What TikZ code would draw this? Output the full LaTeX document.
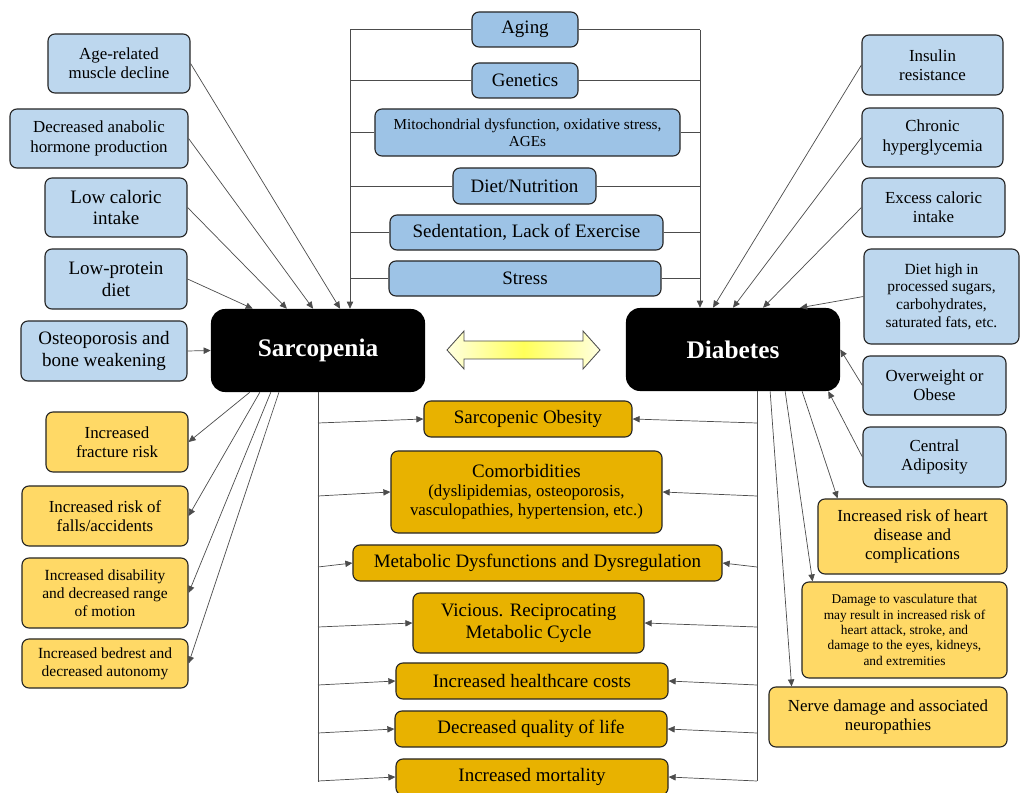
\documentclass[tikz,border=0pt]{standalone}
\usepackage{fontspec}
\setmainfont{Liberation Serif}
\usetikzlibrary{arrows.meta,calc}

\definecolor{topblue}{RGB}{157,195,230}
\definecolor{sideblue}{RGB}{189,215,238}
\definecolor{softgold}{RGB}{255,217,102}
\definecolor{deepgold}{RGB}{232,178,0}

\newcommand\szbig{\fontsize{13.5}{15.5}\selectfont}
\newcommand\szmed{\fontsize{12}{13.6}\selectfont}
\newcommand\szsml{\fontsize{11}{12.6}\selectfont}
\newcommand\sztiny{\fontsize{9.5}{10.9}\selectfont}

\tikzset{
  box/.style={draw=black!85, line width=0.8pt, rounded corners=5pt, align=center, inner sep=1pt},
  topbox/.style={box, fill=topblue, font=\szbig},
  causebox/.style={box, fill=sideblue, font=\szmed},
  effbox/.style={box, fill=softgold, font=\szmed},
  outbox/.style={box, fill=deepgold, font=\szbig},
  mainbox/.style={fill=black, rounded corners=10pt, text=white, font=\fontsize{18}{20}\selectfont\bfseries},
  link/.style={draw=black!70, line width=0.5pt},
  arr/.style={link, -{Triangle[length=5pt,width=4.5pt]}}
}

\begin{document}
\begin{tikzpicture}[x=0.025cm,y=-0.025cm]
                \useasboundingbox (0,0) rectangle (1020,793);
                \node[topbox, minimum width=2.65cm, minimum height=0.875cm] (aging) at (525,29.5) {Aging};
                \node[topbox, minimum width=2.65cm, minimum height=0.875cm] (genetics) at (525,80.5) {Genetics};
                \node[topbox, font=\fontsize{10.8}{12.4}\selectfont, minimum width=7.625cm, minimum height=1.175cm] (mito) at (527.5,132.5) {Mitochondrial dysfunction, oxidative stress,\\ AGEs};
                \node[topbox, minimum width=3.575cm, minimum height=0.9cm] (diet) at (524.5,186) {Diet/Nutrition};
                \node[topbox, minimum width=6.825cm, minimum height=0.875cm] (sedent) at (526.5,232.5) {Sedentation, Lack of Exercise};
                \node[topbox, minimum width=6.8cm, minimum height=0.875cm] (stress) at (525,278.5) {Stress};

                \node[mainbox, minimum width=5.35cm, minimum height=2.075cm] (sarc) at (318,350.5) {Sarcopenia};
                \node[mainbox, minimum width=5.35cm, minimum height=2.075cm] (diab) at (733,349.5) {Diabetes};

                \node[causebox, minimum width=3.55cm, minimum height=1.475cm] (agemus) at (119,63.5) {Age-related\\ muscle decline};
                \node[causebox, minimum width=4.45cm, minimum height=1.475cm] (hormone) at (99,138.5) {Decreased anabolic\\ hormone production};
                \node[causebox, font=\szbig, minimum width=3.55cm, minimum height=1.475cm] (lowcal) at (116,207.5) {Low caloric\\ intake};
                \node[causebox, font=\szbig, minimum width=3.55cm, minimum height=1.5cm] (lowprot) at (116,279) {Low-protein\\ diet};
                \node[causebox, font=\szbig, minimum width=4.15cm, minimum height=1.5cm] (osteo) at (104,351) {Osteoporosis and\\ bone weakening};

                \node[causebox, minimum width=3.525cm, minimum height=1.5cm] (insulin) at (932.5,65) {Insulin\\ resistance};
                \node[causebox, minimum width=3.525cm, minimum height=1.475cm] (hyper) at (932.5,137.5) {Chronic\\ hyperglycemia};
                \node[causebox, minimum width=3.575cm, minimum height=1.475cm] (excess) at (933.5,207.5) {Excess caloric\\ intake};
                \node[causebox, font=\szsml, minimum width=3.875cm, minimum height=2.375cm] (dietrich) at (941.5,296.5) {Diet high in\\ processed sugars,\\ carbohydrates,\\ saturated fats, etc.};
                \node[causebox, minimum width=3.575cm, minimum height=1.475cm] (overw) at (934.5,385.5) {Overweight or\\ Obese};
                \node[causebox, minimum width=3.575cm, minimum height=1.5cm] (central) at (934.5,457) {Central\\ Adiposity};

                \node[effbox, minimum width=3.55cm, minimum height=1.5cm] (fract) at (117,442) {Increased\\ fracture risk};
                \node[effbox, minimum width=4.15cm, minimum height=1.5cm] (falls) at (105,516) {Increased risk of\\ falls/accidents};
                \node[effbox, font=\szsml, minimum width=4.15cm, minimum height=1.75cm] (disab) at (105,593) {Increased disability\\ and decreased range\\ of motion};
                \node[effbox, font=\szsml, minimum width=4.15cm, minimum height=1.225cm] (bedrest) at (105,663.5) {Increased bedrest and\\ decreased autonomy};

                \node[effbox, minimum width=4.725cm, minimum height=1.875cm] (heart) at (912.5,536.5) {Increased risk of heart\\ disease and\\ complications};
                \node[effbox, font=\sztiny, minimum width=5.125cm, minimum height=2.4cm] (vasc) at (904.5,630) {Damage to vasculature that\\ may result in increased risk of\\ heart attack, stroke, and\\ damage to the eyes, kidneys,\\ and extremities};
                \node[effbox, minimum width=5.95cm, minimum height=1.5cm] (nerve) at (888,717) {Nerve damage and associated\\ neuropathies};

                \node[outbox, minimum width=5.2cm, minimum height=0.9cm] (sobes) at (528,419) {Sarcopenic Obesity};
                \node[outbox, font=\szmed, minimum width=6.775cm, minimum height=2.05cm] (comorb) at (526.5,492) {{\szbig Comorbidities}\\ (dyslipidemias, osteoporosis,\\ vasculopathies, hypertension, etc.)};
                \node[outbox, minimum width=9.225cm, minimum height=0.9cm] (metab) at (537.5,563) {Metabolic Dysfunctions and Dysregulation};
                \node[outbox, minimum width=5.775cm, minimum height=1.5cm] (vicious) at (528.5,623) {Vicious. Reciprocating\\ Metabolic Cycle};
                \node[outbox, minimum width=6.8cm, minimum height=0.9cm] (cost) at (532,681) {Increased healthcare costs};
                \node[outbox, minimum width=6.8cm, minimum height=0.9cm] (qol) at (531,729) {Decreased quality of life};
                \node[outbox, minimum width=6.8cm, minimum height=0.9cm] (mort) at (532,777) {Increased mortality};

                \draw[draw=black!70, line width=0.6pt, left color=yellow!12, right color=yellow!12, middle color=yellow!65] (447,350) -- (464,331) -- (464,341) -- (583,341) -- (583,331) -- (600,350) -- (583,369) -- (583,359) -- (464,359) -- (464,369) -- cycle;

                \coordinate (lbus) at (350,30);
                \coordinate (rbus) at (700,30);
                \foreach \n in {aging,genetics,mito,diet,sedent,stress} {
                    \draw[link] (\n.west) -- (\n.west -| lbus);
                    \draw[link] (\n.east) -- (\n.east -| rbus);
                }
                \draw[arr] (lbus) -- (lbus |- sarc.north);
                \draw[arr] (rbus) -- (rbus |- diab.north);

                \draw[arr] (agemus.east) -- ($(sarc.north west)!0.603!(sarc.north east)$);
                \draw[arr] (hormone.east) -- ($(sarc.north west)!0.477!(sarc.north east)$);
                \draw[arr] (lowcal.east) -- ($(sarc.north west)!0.355!(sarc.north east)$);
                \draw[arr] (lowprot.east) -- ($(sarc.north west)!0.196!(sarc.north east)$);
                \draw[arr] (osteo.east) -- (sarc.west);

                \draw[arr] (insulin.west) -- ($(diab.north west)!0.407!(diab.north east)$);
                \draw[arr] (hyper.west) -- ($(diab.north west)!0.5!(diab.north east)$);
                \draw[arr] (excess.west) -- ($(diab.north west)!0.64!(diab.north east)$);
                \draw[arr] (dietrich.west) -- ($(diab.north west)!0.813!(diab.north east)$);
                \draw[arr] (overw.west) -- (diab.east);
                \draw[arr] (central.west) -- ($(diab.south west)!0.944!(diab.south east)$);

                \foreach \n/\f in {fract/0.182,falls/0.229,disab/0.280,bedrest/0.318} {
                    \draw[arr] ($(sarc.south west)!\f!(sarc.south east)$) -- (\n.east);
                }
                \draw[arr] ($(diab.south west)!0.822!(diab.south east)$) -- ($(heart.north west)!0.106!(heart.north east)$);
                \draw[arr] ($(diab.south west)!0.743!(diab.south east)$) -- ($(vasc.north west)!0.054!(vasc.north east)$);
                \draw[arr] ($(diab.south west)!0.673!(diab.south east)$) -- ($(nerve.north west)!0.097!(nerve.north east)$);

                \coordinate (lend) at (318,782);
                \coordinate (rtop) at (757,391);
                \coordinate (rend) at (757,781);
                \draw[link] (sarc.south) -- (lend);
                \draw[link] (rtop) -- (rend);
                \foreach \n in {sobes,comorb,metab,vicious,cost,qol,mort} {
                    \draw[arr] ($(\n.west -| lend)+(0,4)$) -- (\n.west);
                    \draw[arr] ($(\n.east -| rend)+(0,4)$) -- (\n.east);
                }
            \end{tikzpicture}
\end{document}
